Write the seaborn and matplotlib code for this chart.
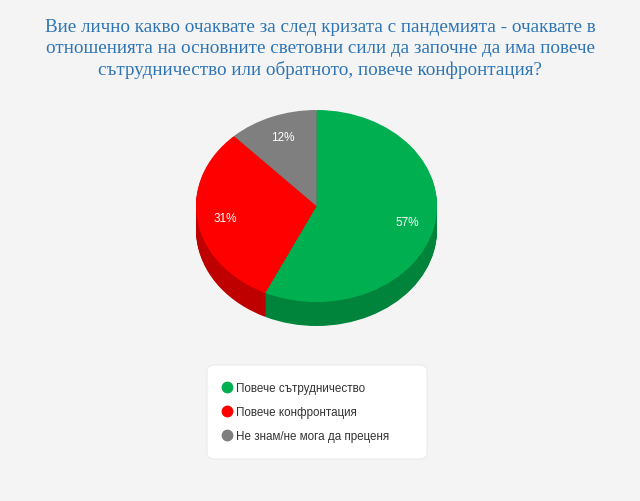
import numpy as np
import matplotlib
matplotlib.use("Agg")
import matplotlib.pyplot as plt
from matplotlib.lines import Line2D
from matplotlib.patches import FancyBboxPatch
import seaborn as sns

# data
labels = ["Повече сътрудничество", "Повече конфронтация", "Не знам/не мога да преценя"]
shares = [57, 31, 12]
top_colors = ["#00b050", "#ff0000", "#7f7f7f"]
side_colors = ["#00843c", "#bf0000", "#5f5f5f"]

title = ("Вие лично какво очаквате за след кризата с пандемията - очаквате в\n"
         "отношенията на основните световни сили да започне да има повече\n"
         "сътрудничество или обратното, повече конфронтация?")

BG = "#f4f4f4"

sns.set_theme(style="white")
plt.rcParams["font.family"] = ["Liberation Sans", "DejaVu Sans"]

fig = plt.figure(figsize=(6.4, 5.02), dpi=100)
fig.patch.set_facecolor(BG)

fig.text(0.5, 1 - 49 / 502, title, ha="center", va="center",
         fontsize=13.8, color="#2e75b6", family=["Liberation Serif", "DejaVu Serif"],
         linespacing=1.3)

# pie axes: pixel box x 196..436, y 110..326
depth = 0.25
ax = fig.add_axes([196 / 640, 1 - 327 / 502, 241 / 640, 216 / 502])
ax.set_facecolor(BG)

# side of the 3d pie: stacked dark layers
for d in np.linspace(depth, 0.01, 24):
    ax.pie(shares, colors=side_colors, startangle=90, counterclock=False,
           center=(0, -d), radius=1, wedgeprops=dict(linewidth=0))

wedges, _, autotexts = ax.pie(
    shares, colors=top_colors, startangle=90, counterclock=False,
    radius=1, autopct="%d%%", pctdistance=0.77,
    wedgeprops=dict(linewidth=0),
    textprops=dict(color="white", fontsize=8.5))

ax.set_aspect("auto")
ax.set_xlim(-1, 1)
ax.set_ylim(-1 - depth, 1)
ax.axis("off")

# legend box
box = FancyBboxPatch((207 / 640, 1 - 460 / 502), 220 / 640, 94 / 502,
                     boxstyle="round,pad=0,rounding_size=0.012",
                     transform=fig.transFigure, facecolor="white",
                     edgecolor="#ebebeb", linewidth=0.8)
fig.patches.append(box)

handles = [Line2D([], [], marker="o", linestyle="", markersize=7.5,
                  markerfacecolor=c, markeredgecolor=c) for c in top_colors]
leg = fig.legend(handles, labels, loc="upper left",
                 bbox_to_anchor=(214 / 640, 1 - 377 / 502),
                 frameon=False, fontsize=8.4, labelspacing=1.05,
                 handletextpad=0.2, handlelength=1.2, borderpad=0)
for t in leg.get_texts():
    t.set_color("#333333")

fig.savefig("out.png", dpi=100, facecolor=BG)
